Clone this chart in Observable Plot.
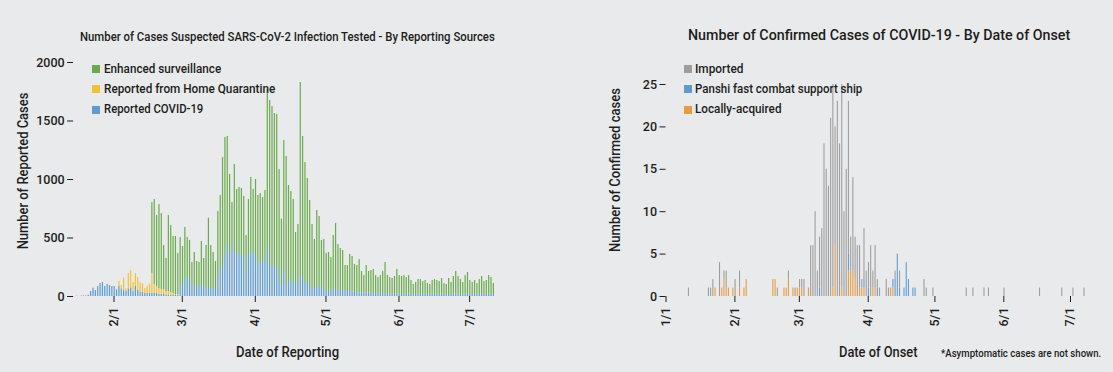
<!DOCTYPE html>
<html>
<head>
<meta charset="utf-8">
<script src="https://cdn.jsdelivr.net/npm/d3@7"></script>
<script src="https://cdn.jsdelivr.net/npm/@observablehq/plot@0.6"></script>
<style>
  html, body { margin: 0; padding: 0; background: #e9eaeb; }
  #root { position: relative; width: 1113px; height: 372px; background: #e9eaeb; overflow: hidden;
          font-family: Roboto, "Liberation Sans", sans-serif; font-weight: 500; color: #1d1d1b; }
  .t { position: absolute; white-space: nowrap; line-height: 1; transform-origin: 0 0; }
  .sq { position: absolute; width: 8px; height: 8px; }
  .panel { position: absolute; }
</style>
</head>
<body>
<div id="root"></div>
<script>
// ---------------- Left chart: Number of Cases Suspected SARS-CoV-2 Infection Tested ----------------
const reportStart = "2020-01-16"; // first day of daily series (to 2020-07-11)
const reportedCovid = [
  3,0,4,5,4,10,43,71,51,85,111,120,85,103,94,85,
  85,57,85,65,51,43,65,74,43,85,51,37,34,26,26,26,26,26,26,17,17,17,9,9,9,9,9,9,85,
  85,162,145,137,85,94,85,68,94,85,68,77,68,60,60,162,231,265,350,444,368,427,385,359,368,350,342,222,359,368,393,
  350,265,291,291,299,419,265,256,256,248,162,94,222,94,145,137,103,128,103,188,162,111,120,94,68,68,68,94,77,60,
  43,43,43,68,60,60,43,43,51,43,51,40,35,35,30,30,30,30,30,25,25,25,25,25,25,25,25,20,20,20,20,
  20,18,20,18,20,18,15,18,20,18,18,20,15,18,20,18,18,15,20,18,15,18,18,20,20,18,18,15,20,20,
  18,15,18,15,18,20,18,18,20,18,15
];
const homeQuarantine = [
  0,0,0,0,0,0,0,0,0,0,0,0,0,0,0,0,
  0,5,43,29,106,22,132,148,77,112,111,80,74,42,59,77,171,77,59,51,43,43,34,34,25,17,8,8,0,
  0,0,0,0,0,0,0,0,0,0,0,0,0,0,0,0,0,0,0,0,0,0,0,0,0,0,0,0,0,0,0,
  0,0,0,0,0,0,0,0,0,0,0,0,0,0,0,0,0,0,0,0,0,0,0,0,0,0,0,0,0,0,
  0,0,0,0,0,0,0,0,0,0,0,0,0,0,0,0,0,0,0,0,0,0,0,0,0,0,0,0,0,0,0,
  0,0,0,0,0,0,0,0,0,0,0,0,0,0,0,0,0,0,0,0,0,0,0,0,0,0,0,0,0,0,
  0,0,0,0,0,0,0,0,0,0,0
];
const enhancedSurveillance = [
  0,0,0,0,0,0,0,0,0,0,0,0,0,0,0,0,
  0,0,0,0,0,0,0,0,0,0,0,0,0,0,0,0,606,726,607,718,649,376,282,649,573,487,496,351,419,
  342,428,359,342,206,282,214,223,376,240,368,592,368,316,239,564,632,923,1009,924,675,376,743,556,564,573,513,299,470,649,522,
  650,598,589,555,607,1350,1410,1368,1308,1308,923,567,1111,1103,804,760,726,419,512,1641,1206,1034,889,727,547,419,667,590,402,427,
  325,333,290,453,564,384,367,350,214,222,308,302,239,230,286,184,149,235,184,197,206,154,137,154,189,266,154,142,134,151,211,
  159,153,159,144,159,119,88,102,125,127,110,117,96,85,117,127,119,113,134,93,88,136,102,151,194,153,127,105,159,185,
  119,105,119,96,127,151,110,119,159,144,96
];
const leftSeries = ["Enhanced surveillance", "Reported from Home Quarantine", "Reported COVID-19"];
const leftColors = ["#6aab4c", "#f3c231", "#5b9bd6"];
const leftYTicks = [0, 500, 1000, 1500, 2000];
const leftXTicks = ["2020-02-01", "2020-03-01", "2020-04-01", "2020-05-01", "2020-06-01", "2020-07-01"];

// ---------------- Right chart: Number of Confirmed Cases of COVID-19 - By Date of Onset ----------------
const onsetDates = [
  "1/11","1/20","1/21","1/22","1/23","1/25","1/26","1/27","1/28","1/29","1/31",
  "2/1","2/3","2/5","2/6","2/18","2/19","2/20","2/23","2/24","2/25","2/27","2/28","2/29",
  "3/1","3/2","3/3","3/5","3/6","3/7","3/8","3/9","3/10","3/11","3/12","3/13","3/14","3/15","3/16","3/17",
  "3/18","3/19","3/20","3/21","3/22","3/23","3/24","3/25","3/26","3/27","3/28","3/29","3/30","3/31",
  "4/1","4/2","4/3","4/4","4/5","4/6","4/9","4/10","4/11","4/12","4/13","4/14","4/15","4/17","4/18","4/19",
  "4/21","4/22","4/26","4/27","4/30","5/15","5/18","5/23","5/25","6/1","6/17","6/27","7/2","7/7"
];
const imported = [
  1,1,1,2,0,4,0,1,2,0,0,
  2,2,0,0,0,0,1,0,0,1,0,1,0,
  1,1,2,0,6,6,10,3,6,8,18,15,13,21,24,14,
  23,18,24,10,15,18,4,11,5,6,5,1,6,3,
  3,6,2,5,1,1,2,1,0,0,1,0,2,0,0,0,
  0,0,2,1,1,1,1,1,1,1,1,1,1,1
];
const panshiShip = [
  0,0,0,0,0,0,0,0,0,0,0,
  0,0,0,0,0,0,0,0,0,0,0,0,0,
  0,0,0,0,0,0,0,0,1,0,0,0,0,0,0,0,
  0,0,0,0,0,2,0,0,0,0,0,0,1,0,
  1,0,0,0,1,0,0,0,0,1,2,5,1,1,4,2,
  1,1,0,0,0,0,0,0,0,0,0,0,0,0
];
const locallyAcquired = [
  0,0,0,0,1,0,1,2,1,1,1,
  0,1,1,2,2,2,0,1,1,2,1,0,1,
  1,1,0,1,0,0,0,0,0,0,0,0,0,0,1,6,
  0,0,1,0,0,3,3,3,2,0,1,1,1,0,
  0,0,1,1,0,0,0,0,1,1,0,0,0,0,0,0,
  0,0,0,0,0,0,0,0,0,0,0,0,0,0
];
const rightSeries = ["Imported", "Panshi fast combat support ship", "Locally-acquired"];
const rightColors = ["#9d9d9d", "#5b9bd6", "#ec9a3b"];
const rightYTicks = [0, 5, 10, 15, 20, 25];
const rightXTicks = ["2020-01-01", "2020-02-01", "2020-03-01", "2020-04-01", "2020-05-01", "2020-06-01", "2020-07-01"];

// ---------------- build ----------------
const root = document.getElementById("root");
const fmt = d => `${d.getUTCMonth() + 1}/${d.getUTCDate()}`;
const day0 = new Date(reportStart + "T00:00:00Z");

// Place a text with its left edge at x (or centred when align="center"), top at y, scaled to a width
function addText(txt, {x, y, size, width, align = "left", rotate = false}) {
  const el = document.createElement("div");
  el.className = "t";
  el.textContent = txt;
  el.style.fontSize = size + "px";
  root.appendChild(el);
  const nat = el.offsetWidth;
  const s = width ? width / nat : 1;
  if (rotate) {
    el.style.left = x + "px";
    el.style.top = y + "px";
    el.style.transformOrigin = "50% 50%";
    el.style.transform = `translate(-50%,-50%) rotate(-90deg) scaleX(${s})`;
  } else {
    const w = nat * s;
    el.style.left = (align === "center" ? x - w / 2 : x) + "px";
    el.style.top = y + "px";
    el.style.transform = `scaleX(${s})`;
  }
  return el;
}
function addSquare(color, left, top) {
  const el = document.createElement("div");
  el.className = "sq";
  Object.assign(el.style, {background: color, left: left + "px", top: top + "px"});
  root.appendChild(el);
}

// Left data rows (stack order: blue, yellow, green)
const leftRows = [];
reportedCovid.forEach((v, i) => {
  const date = d3.utcDay.offset(day0, i);
  leftRows.push({date, series: "Reported COVID-19", value: v});
  leftRows.push({date, series: "Reported from Home Quarantine", value: homeQuarantine[i]});
  leftRows.push({date, series: "Enhanced surveillance", value: enhancedSurveillance[i]});
});

const axisFont = {fontSize: "12.5px", fontWeight: 500, fontFamily: "Roboto, \"Liberation Sans\", sans-serif"};

const leftPlot = Plot.plot({
  width: 556, height: 322,
  marginLeft: 71.1, marginRight: 58.6, marginTop: 12, marginBottom: 76,
  style: {background: "transparent", color: "#1d1d1b", ...axisFont, overflow: "visible"},
  x: {type: "utc", domain: [new Date("2020-01-14T00:00:00Z"), new Date("2020-07-13T00:00:00Z")]},
  y: {domain: [0, 2000]},
  color: {domain: leftSeries, range: leftColors},
  marks: [
    Plot.rectY(leftRows, {
      x1: "date", x2: d => d3.utcDay.offset(d.date, 1), y: "value", fill: "series",
      insetLeft: 0.1, insetRight: 1.05
    }),
    Plot.axisY({ticks: leftYTicks, tickSize: 6, tickPadding: 3, dx: 2, label: null, tickFormat: d => String(d)}),
    Plot.axisX({ticks: leftXTicks.map(s => new Date(s + "T00:00:00Z")), tickFormat: fmt, tickRotate: -90,
                tickSize: 6, tickPadding: 5, label: null})
  ]
});
const leftWrap = document.createElement("div");
leftWrap.className = "panel";
Object.assign(leftWrap.style, {left: "0px", top: "50px"});
leftWrap.appendChild(leftPlot);
root.appendChild(leftWrap);

// Right data rows (stack order: orange, blue, gray)
const rightRows = [];
onsetDates.forEach((s, i) => {
  const [m, d] = s.split("/").map(Number);
  const date = new Date(Date.UTC(2020, m - 1, d));
  rightRows.push({date, series: "Locally-acquired", value: locallyAcquired[i]});
  rightRows.push({date, series: "Panshi fast combat support ship", value: panshiShip[i]});
  rightRows.push({date, series: "Imported", value: imported[i]});
});

const rightPlot = Plot.plot({
  width: 557, height: 322,
  marginLeft: 109.5, marginRight: 11.9, marginTop: 34, marginBottom: 76,
  style: {background: "transparent", color: "#1d1d1b", ...axisFont, overflow: "visible"},
  x: {type: "utc", domain: [new Date("2020-01-01T00:00:00Z"), new Date("2020-07-15T00:00:00Z")]},
  y: {domain: [0, 25]},
  color: {domain: rightSeries, range: rightColors},
  marks: [
    Plot.rectY(rightRows, {
      x1: "date", x2: d => d3.utcDay.offset(d.date, 1), y: "value", fill: "series",
      insetLeft: 0.15, insetRight: 1.0
    }),
    Plot.axisY({ticks: rightYTicks, tickSize: 6, tickPadding: 3, label: null}),
    Plot.axisX({ticks: rightXTicks.map(s => new Date(s + "T00:00:00Z")), tickFormat: fmt, tickRotate: -90,
                tickSize: 6, tickPadding: 5, label: null})
  ]
});
const rightWrap = document.createElement("div");
rightWrap.className = "panel";
Object.assign(rightWrap.style, {left: "556px", top: "50px"});
rightWrap.appendChild(rightPlot);
root.appendChild(rightWrap);

// Titles
addText("Number of Cases Suspected SARS-CoV-2 Infection Tested - By Reporting Sources",
  {x: 287.5, y: 29.5, size: 13, width: 415, align: "center"});
addText("Number of Confirmed Cases of COVID-19 - By Date of Onset",
  {x: 879, y: 27.5, size: 15, width: 382, align: "center"});

// Axis titles
addText("Date of Reporting", {x: 287.5, y: 345, size: 14, width: 103, align: "center"});
addText("Date of Onset", {x: 878.5, y: 345, size: 14, width: 79, align: "center"});
addText("Number of Reported Cases", {x: 23, y: 170.5, size: 14, width: 157, rotate: true});
addText("Number of Confirmed cases", {x: 614.5, y: 170, size: 14, width: 164, rotate: true});
addText("*Asymptomatic cases are not shown.", {x: 941, y: 348, size: 11, width: 160});

// Legends
const legendRowsY = [65, 85, 105.5];
const leftLegendW = [117, 171.7, 99.3];
const rightLegendW = [48.3, 167, 86.7];
leftSeries.forEach((s, i) => {
  addSquare(leftColors[i], 92, legendRowsY[i]);
  addText(s, {x: 103.5, y: legendRowsY[i] - 3.5, size: 13.5, width: leftLegendW[i]});
});
rightSeries.forEach((s, i) => {
  addSquare(rightColors[i], 684, legendRowsY[i]);
  addText(s, {x: 695.3, y: legendRowsY[i] - 3.5, size: 13.5, width: rightLegendW[i]});
});
</script>
</body>
</html>
